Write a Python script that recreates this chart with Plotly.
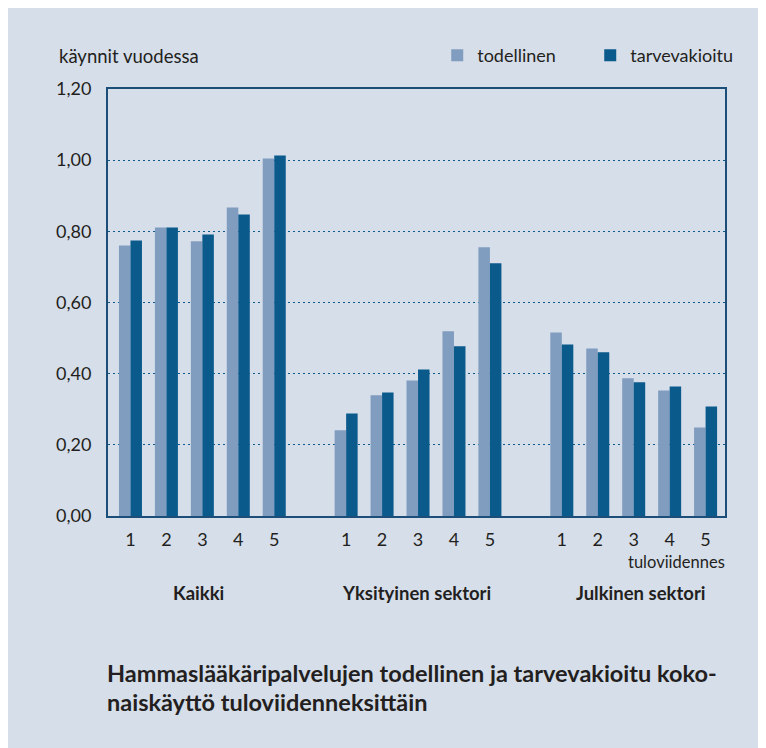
import plotly.graph_objects as go

groups = ["Kaikki", "Yksityinen sektori", "Julkinen sektori"]
quintiles = ["1", "2", "3", "4", "5"]
todellinen = [0.760, 0.811, 0.772, 0.867, 1.005,
              0.241, 0.339, 0.381, 0.519, 0.755,
              0.516, 0.471, 0.387, 0.353, 0.249]
tarvevakioitu = [0.774, 0.811, 0.791, 0.847, 1.013,
                 0.288, 0.347, 0.412, 0.477, 0.710,
                 0.482, 0.460, 0.376, 0.364, 0.308]
y_ticks = [0, 0.2, 0.4, 0.6, 0.8, 1.0, 1.2]
y_tick_labels = ["0,00", "0,20", "0,40", "0,60", "0,80", "1,00", "1,20"]
title_lines = ["Hammaslääkäripalvelujen todellinen ja tarvevakioitu koko-",
               "naiskäyttö tuloviidenneksittäin"]

# positions: 5 quintiles per group, gap of one slot between groups
xpos = []
for g in range(len(groups)):
    for q in range(len(quintiles)):
        xpos.append(g * 6 + q)
tick_text = quintiles * len(groups)

BG = "#D6DEEA"
LIGHT = "#809CBF"
DARK = "#0B5A8C"
FRAME = "#1B4F7A"
TXT = "#231F20"
FONT = "Lato"

fig = go.Figure()
fig.add_trace(go.Bar(x=xpos, y=todellinen, name="todellinen", marker_color=LIGHT,
                     marker_line_width=0))
fig.add_trace(go.Bar(x=xpos, y=tarvevakioitu, name="tarvevakioitu", marker_color=DARK,
                     marker_line_width=0))

OFF = 8  # page body margin
W, H = 754, 740
ml = 107.5 - OFF
mt = 88.5 - OFF
mr = W - (725 - OFF)
mb = H - (515.7 - OFF)
ph = H - mt - mb
pw = W - ml - mr

def py(pix):
    return (H - mb - (pix - OFF)) / ph

def px(pix):
    return ((pix - OFF) - ml) / pw

fig.update_layout(
    width=W, height=H,
    margin=dict(l=ml, r=mr, t=mt, b=mb, pad=0, autoexpand=False),
    paper_bgcolor=BG,
    plot_bgcolor=BG,
    barmode="group",
    bargap=0.36,
    bargroupgap=0,
    font=dict(family=FONT, color=TXT, size=16),
    showlegend=True,
    legend=dict(orientation="h", x=px(437), xanchor="left", y=py(55), yanchor="middle",
                bgcolor="rgba(0,0,0,0)", font=dict(size=18, family=FONT, color=TXT),
                entrywidth=108, entrywidthmode="pixels", itemwidth=30,
                traceorder="normal"),
    xaxis=dict(
        range=[-0.625, 16.54],
        tickmode="array", tickvals=xpos, ticktext=tick_text,
        showgrid=False, zeroline=False,
        showline=True, linecolor=FRAME, linewidth=2, mirror=True,
        ticks="", ticklabelstandoff=6,
        tickfont=dict(size=18, family=FONT, color=TXT),
    ),
    yaxis=dict(
        range=[0, 1.2],
        tickmode="array", tickvals=y_ticks, ticktext=y_tick_labels,
        showgrid=True, gridcolor=DARK, gridwidth=1.3, griddash="2px,3px",
        zeroline=False,
        showline=True, linecolor=FRAME, linewidth=2, mirror=True,
        ticks="", ticklabelstandoff=11,
        tickfont=dict(size=18, family=FONT, color=TXT),
    ),
)

# axis title
fig.add_annotation(text="käynnit vuodessa", xref="paper", yref="paper",
                   x=px(56), y=py(55), xanchor="left", yanchor="middle",
                   showarrow=False, font=dict(size=18.5, family=FONT, color=TXT))

fig.add_annotation(text="tuloviidennes", xref="paper", yref="paper",
                   x=px(727), y=py(562), xanchor="right", yanchor="middle",
                   showarrow=False, font=dict(size=16.5, family=FONT, color=TXT))

group_centers = [1.9, 7.95, 14.2]
for g, c in zip(groups, group_centers):
    fig.add_annotation(text="<b>" + g + "</b>", xref="x", yref="paper",
                       x=c, y=py(593), xanchor="center", yanchor="middle",
                       showarrow=False, font=dict(size=18.5, family=FONT, color=TXT))

for line, ypix in zip(title_lines, [673, 702]):
    fig.add_annotation(
        text="<b>" + line + "</b>",
        xref="paper", yref="paper", x=px(104), y=py(ypix), xanchor="left", yanchor="middle",
        align="left", showarrow=False, font=dict(size=23.5, family=FONT, color=TXT))

fig.write_html("out.html")
